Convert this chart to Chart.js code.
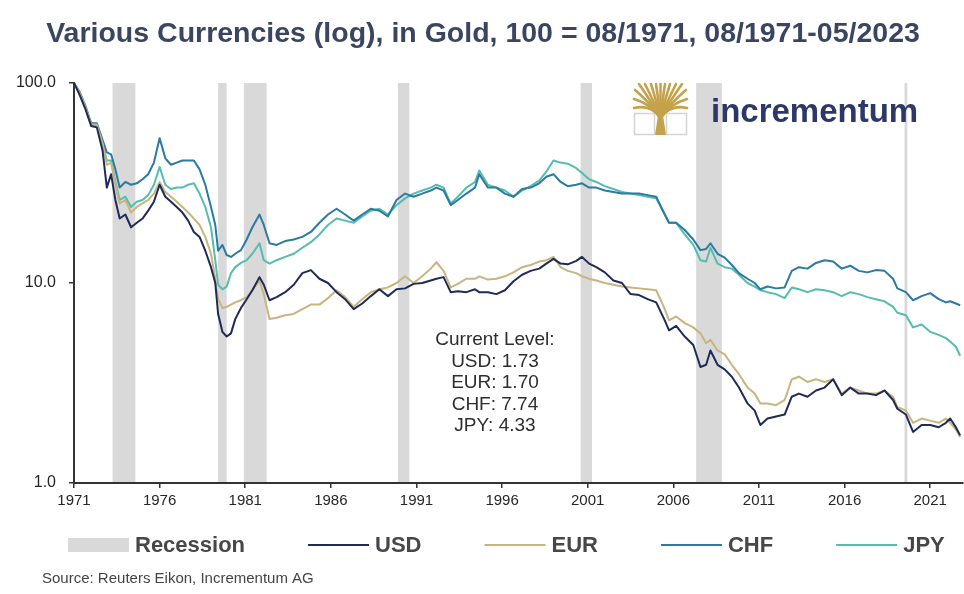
<!DOCTYPE html>
<html>
<head>
<meta charset="utf-8">
<title>Various Currencies in Gold</title>
<script src="https://cdn.jsdelivr.net/npm/chart.js@4.4.0/dist/chart.umd.min.js"></script>
<style>
  html, body { margin: 0; padding: 0; background: #fff; }
  #gold-canvas { display: block; }
</style>
</head>
<body>
<canvas id="gold-canvas" width="964" height="594"></canvas>
<script>
// Purchasing power in gold, 100 = 08/1971 (log scale)
const dates = [
  '1971-08', '1971-12', '1972-04', '1972-08', '1972-12', '1973-04', '1973-07', '1973-10',
  '1974-01', '1974-04', '1974-08', '1974-12', '1975-04', '1975-08', '1975-12', '1976-04',
  '1976-08', '1976-12', '1977-04', '1977-08', '1977-12', '1978-04', '1978-08', '1978-12',
  '1979-04', '1979-08', '1979-11', '1980-01', '1980-04', '1980-07', '1980-10', '1981-01',
  '1981-05', '1981-09', '1982-01', '1982-06', '1982-09', '1983-01', '1983-06', '1983-12',
  '1984-06', '1984-12', '1985-06', '1985-12', '1986-06', '1986-12', '1987-06', '1987-12',
  '1988-06', '1988-12', '1989-06', '1989-12', '1990-06', '1990-12', '1991-06', '1991-12',
  '1992-06', '1992-10', '1993-03', '1993-08', '1994-01', '1994-07', '1995-01', '1995-04',
  '1995-10', '1996-04', '1996-10', '1997-04', '1997-10', '1998-04', '1998-10', '1999-03',
  '1999-08', '2000-01', '2000-06', '2000-12', '2001-04', '2001-09', '2002-02', '2002-08',
  '2003-02', '2003-08', '2004-02', '2004-08', '2005-02', '2005-08', '2006-02', '2006-05',
  '2006-10', '2007-04', '2007-10', '2008-03', '2008-07', '2008-10', '2009-03', '2009-08',
  '2010-01', '2010-06', '2010-12', '2011-05', '2011-09', '2012-02', '2012-08', '2013-02',
  '2013-07', '2013-12', '2014-06', '2014-12', '2015-06', '2015-12', '2016-06', '2016-12',
  '2017-06', '2017-12', '2018-06', '2018-12', '2019-06', '2019-09', '2020-03', '2020-08',
  '2021-02', '2021-08', '2022-02', '2022-07', '2022-10', '2023-02', '2023-05'
];

const usd = [
  100, 87, 74, 61, 60, 46, 30, 35,
  26, 21, 22, 19, 20, 21, 23, 25.5,
  31, 27, 25.5, 24, 22.5, 20.5, 18, 17,
  14.5, 12, 10, 7, 5.7, 5.4, 5.6, 6.6,
  7.5, 8.3, 9.2, 10.7, 9.8, 8.2, 8.5, 9.0,
  9.8, 11.2, 11.6, 10.5, 10, 9, 8.3, 7.4,
  7.9, 8.6, 9.3, 8.6, 9.3, 9.4, 9.9, 10,
  10.3, 10.5, 10.7, 9.0, 9.1, 9.0, 9.3, 9.0,
  9.0, 8.8, 9.2, 10.2, 11, 11.5, 11.8, 12.5,
  13.2, 12.5, 12.4, 12.9, 13.5, 12.5, 12, 11.3,
  10.3, 10, 8.8, 8.7, 8.3, 8.0, 6.5, 5.8,
  6.1, 5.4, 4.9, 3.8, 3.9, 4.6, 3.9, 3.7,
  3.4, 3.0, 2.5, 2.3, 1.95, 2.1, 2.15, 2.2,
  2.7, 2.8, 2.7, 2.9, 3.0, 3.3, 2.75, 3.0,
  2.8, 2.8, 2.75, 2.9, 2.6, 2.35, 2.2, 1.8,
  1.95, 1.95, 1.9, 2.0, 2.1, 1.9, 1.73
];

const eur = [
  100, 89, 76, 62, 62, 50, 39, 40,
  31, 25, 26, 22.5, 24, 25, 26, 28,
  32, 28.5, 27, 25.5, 24, 22.5, 21, 19.5,
  17, 14, 10.5, 8.3, 7.5, 7.6, 7.8, 8.0,
  8.2, 8.5, 9.2, 10.3, 8.8, 6.6, 6.7, 6.9,
  7.0, 7.4, 7.8, 7.8, 8.4, 9.2, 8.5, 7.6,
  8.3, 9.0, 9.3, 9.5, 10, 10.8, 10, 10.8,
  11.8, 12.7, 11.5, 9.5, 9.9, 10.5, 10.5, 10.8,
  10.4, 10.5, 10.8, 11.3, 12, 12.3, 12.8, 13,
  13.5, 12, 11.5, 11.2, 10.8, 10.5, 10.3, 10,
  9.8, 9.6, 9.5, 9.4, 9.3, 9.2, 7.4, 6.5,
  6.8, 6.3, 6.0, 5.6, 5.0, 5.2, 4.6, 4.4,
  3.9, 3.5, 3.0, 2.8, 2.5, 2.5, 2.45, 2.6,
  3.3, 3.4, 3.2, 3.3, 3.2, 3.3, 2.8, 3.0,
  2.9, 2.8, 2.8, 2.9, 2.7, 2.4, 2.3, 2.0,
  2.1, 2.05, 2.0, 2.1, 2.0, 1.85, 1.70
];

const chf = [
  100, 90, 77, 63, 63, 52, 45, 44,
  37, 30, 32, 31, 31.5, 33, 35, 40,
  53, 42, 39, 40, 41, 41, 41, 37,
  31, 24, 19.5, 14.5, 15.5, 13.8, 13.5, 14,
  14.6, 16.5, 19, 22, 19.5, 15.8, 15.5, 16.2,
  16.5, 17, 18, 20, 22, 23.5, 22, 20.5,
  22, 23.5, 23, 21.5, 26, 28, 27, 28,
  29, 30, 29, 24.5, 26, 28, 30, 35,
  30, 30, 28, 27, 29.5, 30, 31.5, 34,
  35, 32, 30.5, 31, 31.5, 30, 30, 29,
  28.5, 28, 28, 28, 27.5, 27, 22, 20,
  20, 18.4, 16.5, 14.6, 14.8, 15.8, 14, 13.4,
  12.3, 11.2, 10.5, 10, 9.3, 9.6, 9.4, 9.5,
  11.5, 12, 11.8, 12.6, 13, 12.8, 11.8, 12.2,
  11.5, 11.3, 11.6, 11.5, 10.5, 9.4, 9.0, 8.2,
  8.6, 8.9, 8.3, 8.0, 8.1, 7.9, 7.74
];

const jpy = [
  100, 89, 76, 62, 61, 50, 41, 41,
  32, 26, 27, 24, 25.5, 26, 27.5, 31,
  38, 31, 29.5, 30, 30, 31, 31.5, 28,
  24, 19, 13, 9.8, 9.3, 9.6, 11.2, 12,
  12.6, 13, 14, 15.8, 13, 12.5, 13, 13.5,
  14, 15, 16, 17.5, 19.5, 21, 20.5, 20,
  21.5, 23, 23.5, 22, 24.5, 26.5, 28, 29,
  30, 31, 30, 25, 27, 30, 32, 36.5,
  31, 30, 29, 27, 29, 30.5, 32.5, 36,
  41, 40, 39.5, 37.5, 35.5, 33, 32, 30.5,
  29.5, 28.5, 28, 27.5, 27, 26.5, 22, 20,
  20, 17.5, 15.5, 13, 12.8, 15, 12.5, 12,
  11.8, 11, 10, 9.6, 9.2, 9.0, 8.8, 8.4,
  9.5, 9.3, 9.0, 9.3, 9.2, 9.0, 8.6, 9.0,
  8.8, 8.5, 8.3, 8.1, 7.6, 7.1, 6.9, 6.0,
  6.2, 5.7, 5.5, 5.3, 5.1, 4.8, 4.33
];

// US recessions (start, end)
const recessions = [
  ['1973-11', '1975-03'],
  ['1980-01', '1980-07'],
  ['1981-07', '1982-11'],
  ['1990-07', '1991-03'],
  ['2001-03', '2001-11'],
  ['2007-12', '2009-06'],
  ['2020-02', '2020-04']
];

const yearTicks = [1971, 1976, 1981, 1986, 1991, 1996, 2001, 2006, 2011, 2016, 2021];
const levelTicks = [1, 10, 100];

const BAND_COLOR = '#d9d9da';
const FONT = '"Liberation Sans", Arial, Helvetica, sans-serif';

// months since 08/1971
const toMonth = (d) => {
  const [y, m] = d.split('-').map(Number);
  return (y - 1971) * 12 + (m - 8);
};

const toPoints = (values) => dates.map((d, i) => ({ x: toMonth(d), y: values[i] }));

const currencies = [
  { label: 'USD', values: usd, color: '#1f2b57' },
  { label: 'EUR', values: eur, color: '#c9b47f' },
  { label: 'CHF', values: chf, color: '#2a7aa1' },
  { label: 'JPY', values: jpy, color: '#55bcb0' }
];

const bandsPlugin = {
  id: 'recessionBands',
  beforeDraw(chart) {
    const { ctx, chartArea, scales: { x } } = chart;
    ctx.save();
    ctx.fillStyle = '#fff';
    ctx.fillRect(0, 0, chart.width, chart.height);
    ctx.fillStyle = BAND_COLOR;
    recessions.forEach(([from, to]) => {
      const x0 = x.getPixelForValue(toMonth(from));
      const x1 = x.getPixelForValue(toMonth(to));
      ctx.fillRect(x0, chartArea.top, x1 - x0, chartArea.bottom - chartArea.top);
    });
    ctx.restore();
  }
};

function drawLogo(ctx) {
  const gold = '#c4a24a';
  ctx.save();
  // frame
  ctx.strokeStyle = '#d4d4d4';
  ctx.lineWidth = 1.5;
  ctx.strokeRect(634.5, 113.5, 20, 21);
  ctx.strokeRect(666.5, 113.5, 20, 21);
  // crown: branches fanning out from the trunk
  ctx.strokeStyle = gold;
  ctx.lineWidth = 2.6;
  ctx.lineCap = 'round';
  const tips = [[634, 108], [634, 99], [635, 90], [639, 84], [645, 84], [651, 84], [656, 84],
    [660.5, 84], [665, 84], [670, 84], [676, 84], [682, 84], [686, 90], [687, 99], [687, 108]];
  tips.forEach(([tx, ty]) => {
    ctx.beginPath();
    ctx.moveTo(660.5, 118);
    ctx.quadraticCurveTo(660.5 + (tx - 660.5) * 0.35, 104, tx, ty);
    ctx.stroke();
  });
  // trunk
  ctx.fillStyle = gold;
  ctx.beginPath();
  ctx.moveTo(655, 135);
  ctx.lineTo(666, 135);
  ctx.lineTo(662.5, 112);
  ctx.lineTo(658.5, 112);
  ctx.closePath();
  ctx.fill();
  ctx.font = 'bold 33px ' + FONT;
  ctx.fillStyle = '#2d3868';
  ctx.textAlign = 'left';
  ctx.textBaseline = 'alphabetic';
  ctx.fillText('incrementum', 711, 122);
  ctx.restore();
}

const decorPlugin = {
  id: 'decor',
  afterDraw(chart) {
    const { ctx, scales: { x, y } } = chart;
    ctx.save();

    // title
    ctx.font = 'bold 28.5px ' + FONT;
    ctx.fillStyle = '#3a4661';
    ctx.textAlign = 'center';
    ctx.textBaseline = 'alphabetic';
    ctx.fillText('Various Currencies (log), in Gold, 100 = 08/1971, 08/1971-05/2023', 483, 42);

    drawLogo(ctx);

    // latest values box
    const lines = ['Current Level:'].concat(
      currencies.map(c => c.label + ': ' + c.values[c.values.length - 1].toFixed(2))
    );
    const cx = x.getPixelForValue(295);
    const cy = y.getPixelForValue(5.2);
    ctx.font = '19px ' + FONT;
    ctx.fillStyle = '#2e2e2e';
    ctx.textAlign = 'center';
    ctx.textBaseline = 'middle';
    lines.forEach((t, i) => ctx.fillText(t, cx, cy + i * 21.5));

    // legend
    const items = [{ text: 'Recession', color: BAND_COLOR, box: true }].concat(
      chart.data.datasets.map(ds => ({ text: ds.label, color: ds.borderColor }))
    );
    ctx.font = 'bold 22px ' + FONT;
    ctx.textAlign = 'left';
    let lx = 68;
    const ly = 545;
    items.forEach(it => {
      if (it.box) {
        ctx.fillStyle = it.color;
        ctx.fillRect(lx, ly - 7, 61, 14);
      } else {
        ctx.strokeStyle = it.color;
        ctx.lineWidth = 2;
        ctx.beginPath();
        ctx.moveTo(lx, ly);
        ctx.lineTo(lx + 61, ly);
        ctx.stroke();
      }
      lx += 61 + 6;
      ctx.fillStyle = '#474747';
      ctx.fillText(it.text, lx, ly + 1);
      lx += ctx.measureText(it.text).width + 63;
    });

    // source
    ctx.font = '15px ' + FONT;
    ctx.fillStyle = '#444';
    ctx.fillText('Source: Reuters Eikon, Incrementum AG', 42, 579);
    ctx.restore();
  }
};

const chart = new Chart(document.getElementById('gold-canvas').getContext('2d'), {
  type: 'line',
  data: {
    datasets: currencies.map(c => ({
      label: c.label,
      data: toPoints(c.values),
      borderColor: c.color,
      backgroundColor: c.color,
      borderWidth: 2,
      pointRadius: 0,
      tension: 0,
      borderJoinStyle: 'round',
      fill: false
    }))
  },
  options: {
    responsive: false,
    animation: false,
    devicePixelRatio: 1,
    layout: { padding: { top: 83, right: 1, left: 0, bottom: 0 } },
    plugins: {
      legend: { display: false },
      tooltip: { enabled: false },
      title: { display: false }
    },
    scales: {
      x: {
        type: 'linear',
        min: 0,
        max: 623,
        afterFit: (s) => { s.height = 111; },
        afterBuildTicks: (s) => { s.ticks = yearTicks.map(yr => ({ value: (yr - 1971) * 12 })); },
        ticks: {
          callback: (v, i) => String(yearTicks[i]),
          font: { family: FONT, size: 15 },
          color: '#262626',
          padding: 4,
          maxRotation: 0,
          autoSkip: false
        },
        grid: { display: true, drawOnChartArea: false, drawTicks: true, tickLength: 5, color: '#333', lineWidth: 1.5 },
        border: { display: true, color: '#333', width: 2 }
      },
      y: {
        type: 'logarithmic',
        min: 1,
        max: 100,
        afterFit: (s) => { s.width = 74; },
        afterBuildTicks: (s) => { s.ticks = levelTicks.map(v => ({ value: v })); },
        ticks: {
          callback: (v) => Number(v).toFixed(1),
          font: { family: FONT, size: 16 },
          color: '#262626',
          padding: 13
        },
        grid: { display: true, drawOnChartArea: false, drawTicks: true, tickLength: 5, color: '#333', lineWidth: 1.5 },
        border: { display: true, color: '#333', width: 2 }
      }
    }
  },
  plugins: [bandsPlugin, decorPlugin]
});
</script>
</body>
</html>
